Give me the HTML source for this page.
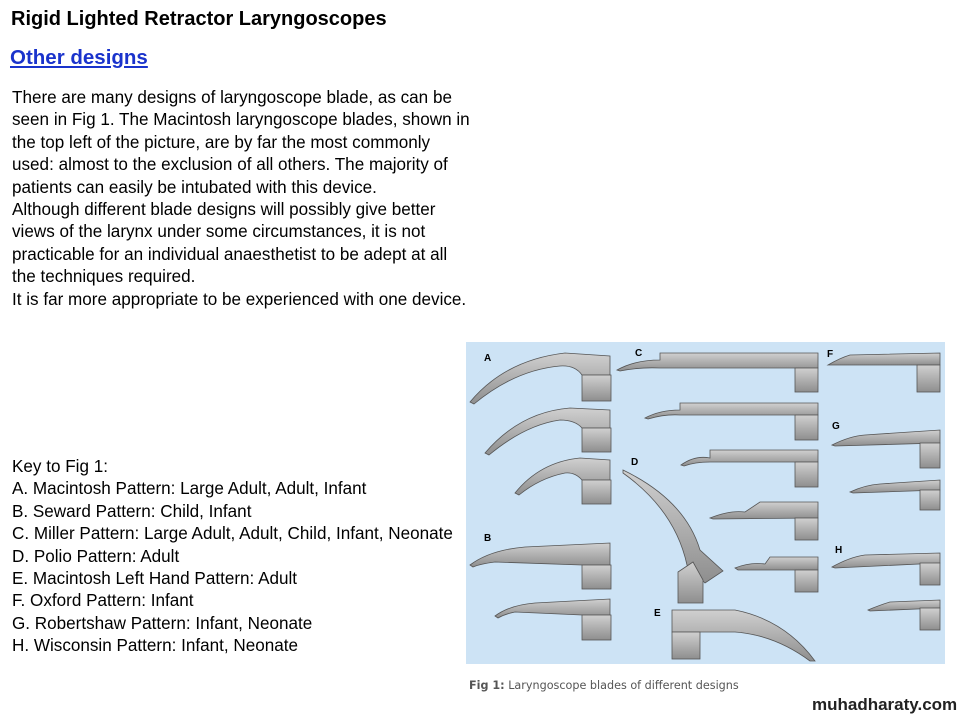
<!DOCTYPE html>
<html><head><meta charset="utf-8"><style>
body{margin:0;width:960px;height:720px;background:#fff;position:relative;overflow:hidden;font-family:"Liberation Sans",sans-serif;}
.t{position:absolute;white-space:nowrap;color:#000;}
</style></head><body>
<div class="t" style="left:11px;top:8px;font-size:20px;font-weight:bold;">Rigid Lighted Retractor Laryngoscopes</div>
<div class="t" style="left:10px;top:46px;font-size:20.5px;font-weight:bold;color:#1a33cc;text-decoration:underline;">Other designs</div>
<div class="t" style="left:12px;top:87px;font-size:17.1px;line-height:22.4px;">There are many designs of laryngoscope blade, as can be<br>seen in Fig 1. The Macintosh laryngoscope blades, shown in<br>the top left of the picture, are by far the most commonly<br>used: almost to the exclusion of all others. The majority of<br>patients can easily be intubated with this device.<br>Although different blade designs will possibly give better<br>views of the larynx under some circumstances, it is not<br>practicable for an individual anaesthetist to be adept at all<br>the techniques required.<br>It is far more appropriate to be experienced with one device.</div>
<div class="t" style="left:12px;top:456px;font-size:17.1px;line-height:22.4px;">Key to Fig 1:<br>A. Macintosh Pattern: Large Adult, Adult, Infant<br>B. Seward Pattern: Child, Infant<br>C. Miller Pattern: Large Adult, Adult, Child, Infant, Neonate<br>D. Polio Pattern: Adult<br>E. Macintosh Left Hand Pattern: Adult<br>F. Oxford Pattern: Infant<br>G. Robertshaw Pattern: Infant, Neonate<br>H. Wisconsin Pattern: Infant, Neonate</div>
<svg style="position:absolute;left:465px;top:340px" width="481" height="325" viewBox="0 0 481 325">
<defs><linearGradient id="g" x1="0" y1="0" x2="0" y2="1"><stop offset="0" stop-color="#d0d0d0"/><stop offset="1" stop-color="#8e8e8e"/></linearGradient></defs>
<rect x="1" y="2" width="479" height="322" fill="#cde3f5"/>
<g fill="url(#g)" stroke="#555" stroke-width="0.8">
<path d="M5,62 Q40,20 100,13 L145,16 L145,35 L117,35 Q110,25 95,26 Q50,30 9,64 Z"/><rect x="117" y="35" width="29" height="26"/>
<path d="M20,113 Q55,72 105,68 L145,70 L145,88 L117,88 Q110,80 95,80 Q60,85 24,115 Z"/><rect x="117" y="88" width="29" height="24"/>
<path d="M50,153 Q75,122 115,118 L145,120 L145,140 L117,140 Q110,132 100,133 Q75,138 54,155 Z"/><rect x="117" y="140" width="29" height="24"/>
<path d="M5,225 Q25,210 60,207 L145,203 L145,225 L117,225 L30,222 Q15,224 8,227 Z"/><rect x="117" y="225" width="29" height="24"/>
<path d="M30,276 Q45,265 70,263 L145,259 L145,275 L117,275 L50,272 Q40,274 33,278 Z"/><rect x="117" y="275" width="29" height="25"/>
<path d="M152,30 Q170,20 195,20 L195,13 L353,13 L353,28 L195,28 Q175,27 155,31 Z"/><rect x="330" y="28" width="23" height="24"/>
<path d="M180,78 Q195,70 215,70 L215,63 L353,63 L353,75 L215,75 Q200,74 183,79 Z"/><rect x="330" y="75" width="23" height="25"/>
<path d="M216,125 Q230,115 245,118 L245,110 L353,110 L353,122 L245,122 Q230,122 219,126 Z"/><rect x="330" y="122" width="23" height="25"/>
<path d="M245,178 Q265,170 280,172 L295,162 L353,162 L353,178 L248,179 Z"/><rect x="330" y="178" width="23" height="22"/>
<path d="M270,228 Q285,222 300,224 L305,217 L353,217 L353,230 L273,230 Z"/><rect x="330" y="230" width="23" height="22"/>
<path d="M158,130 Q220,160 235,210 L258,231 L240,243 L222,225 Q210,170 158,133 Z"/><path d="M213,232 L228,222 L238,240 L238,263 L213,263 Z"/>
<path d="M207,270 L270,270 Q320,280 350,321 L345,321 Q310,295 270,292 L207,292 Z"/><rect x="207" y="292" width="28" height="27"/>
<path d="M363,25 Q375,18 385,15 L475,13 L475,25 Z"/><rect x="452" y="25" width="23" height="27"/>
<path d="M367,105 Q385,96 400,95 L475,90 L475,103 L370,106 Z"/><rect x="455" y="103" width="20" height="25"/>
<path d="M385,152 Q400,145 415,144 L475,140 L475,150 L388,153 Z"/><rect x="455" y="150" width="20" height="20"/>
<path d="M367,227 Q385,217 400,215 L475,213 L475,223 L370,228 Z"/><rect x="455" y="223" width="20" height="22"/>
<path d="M403,270 Q415,265 425,262 L475,260 L475,268 L405,271 Z"/><rect x="455" y="268" width="20" height="22"/>
</g>
<g font-family="Liberation Sans" font-weight="bold" font-size="10" fill="#000">
<text x="19" y="21">A</text><text x="19" y="201">B</text><text x="170" y="16">C</text><text x="166" y="125">D</text><text x="189" y="276">E</text><text x="362" y="17">F</text><text x="367" y="89">G</text><text x="370" y="213">H</text>
</g>
</svg>
<div class="t" style="left:469px;top:679px;font-size:11.2px;color:#555;font-family:'DejaVu Sans',sans-serif;"><b>Fig 1:</b> Laryngoscope blades of different designs</div>
<div class="t" style="left:812px;top:695px;font-size:17px;font-weight:bold;color:#222;">muhadharaty.com</div>
</body></html>
